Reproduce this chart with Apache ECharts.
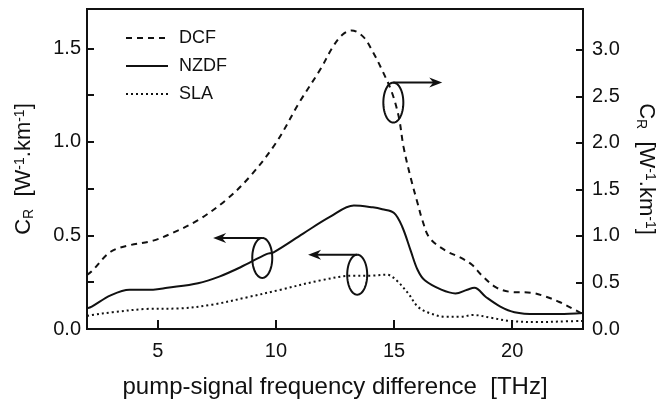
<!DOCTYPE html>
<html>
<head>
<meta charset="utf-8">
<script src="https://cdn.jsdelivr.net/npm/echarts@6/dist/echarts.min.js"></script>
<style>
html,body{margin:0;padding:0;background:#fff;}
#c{width:667px;height:401px;}
</style>
</head>
<body>
<div id="c"></div>
<script>
// ---- data ----
var dcfX = [2.0, 2.2, 3.0, 3.8, 4.8, 5.6, 6.7, 7.9, 8.9, 10.0, 11.0, 11.9, 12.4, 12.8, 13.2, 13.7, 14.1, 14.5, 14.9, 15.2, 15.4, 15.7, 16.0, 16.2, 16.5, 17.2, 17.8, 18.3, 18.7, 19.3, 19.9, 20.8, 21.4, 22.0, 22.7, 23.0];
var dcfY = [0.58, 0.62, 0.83, 0.90, 0.95, 1.03, 1.17, 1.39, 1.64, 2.00, 2.44, 2.80, 3.03, 3.16, 3.21, 3.14, 2.98, 2.78, 2.55, 2.28, 1.96, 1.63, 1.35, 1.17, 0.98, 0.84, 0.77, 0.69, 0.58, 0.45, 0.40, 0.39, 0.35, 0.29, 0.20, 0.16];

var nzdfX = [2.0, 2.2, 3.0, 3.8, 4.8, 5.4, 6.7, 7.6, 8.5, 9.6, 9.9, 11.15, 12.3, 13.3, 14.1, 14.5, 15.0, 15.35, 15.7, 16.0, 16.3, 17.0, 17.6, 18.1, 18.4, 18.9, 19.5, 20.1, 21.0, 22.0, 23.0];
var nzdfY = [0.11, 0.12, 0.18, 0.21, 0.21, 0.22, 0.245, 0.28, 0.33, 0.40, 0.41, 0.51, 0.60, 0.66, 0.65, 0.64, 0.62, 0.545, 0.42, 0.315, 0.26, 0.21, 0.19, 0.21, 0.22, 0.17, 0.12, 0.09, 0.08, 0.08, 0.085];

var slaX = [2.0, 2.2, 3.1, 4.5, 5.9, 7.3, 8.8, 10.2, 11.9, 13.3, 14.0, 14.7, 15.1, 15.6, 16.0, 16.5, 17.2, 17.8, 18.35, 19.1, 19.9, 21.2, 22.0, 23.0];
var slaY = [0.07, 0.075, 0.09, 0.107, 0.11, 0.13, 0.17, 0.21, 0.26, 0.285, 0.285, 0.29, 0.26, 0.19, 0.12, 0.085, 0.065, 0.065, 0.075, 0.06, 0.043, 0.037, 0.04, 0.043];

var xTicks = [5, 10, 15, 20];
var seriesNames = ['DCF', 'NZDF', 'SLA'];

// annotation loops (left-axis data coordinates): centre x, centre y, arrow tip x
var loopX = [14.97, 9.42, 13.44];
var loopY = [1.21, 0.38, 0.29];
var arrowTipX = [17.04, 7.34, 11.36];

function pairs(xs, ys){ return xs.map(function(x,i){ return [x, ys[i]]; }); }

var FONT = "'Liberation Sans', Arial, Helvetica, sans-serif";
var INK = '#111';

var titleRich = {
  c: {fontSize: 22, fontFamily: FONT, color: INK, lineHeight: 28, verticalAlign: 'middle'},
  sub: {fontSize: 14, fontFamily: FONT, color: INK, lineHeight: 28, verticalAlign: 'bottom', padding: [0,0,2,0]},
  sup: {fontSize: 14, fontFamily: FONT, color: INK, lineHeight: 28, verticalAlign: 'top', padding: [3,0,0,0]},
  t: {fontSize: 22, fontFamily: FONT, color: INK, lineHeight: 28, verticalAlign: 'middle'}
};
var titleText = '{c|C}{sub|R}{t|  [W}{sup|-1}{t|.km}{sup|-1}{t|]}';

var chart = echarts.init(document.getElementById('c'), null, {renderer: 'canvas'});
var option = {
  backgroundColor: '#fff',
  animation: false,
  textStyle: {fontFamily: FONT, color: INK},
  grid: {left: 87, right: 84, top: 9, bottom: 72, show: true, borderColor: INK, borderWidth: 2,
    backgroundColor: 'transparent', containLabel: false, outerBoundsMode: 'none'},
  legend: {
    data: seriesNames,
    orient: 'vertical',
    left: 120, top: 24,
    itemWidth: 42, itemHeight: 14, itemGap: 10,
    itemStyle: {opacity: 0},
    textStyle: {fontSize: 18, fontFamily: FONT, color: INK, padding: [0,0,0,6]}
  },
  xAxis: {
    type: 'value', min: 2, max: 23,
    axisLine: {show: true, lineStyle: {color: INK, width: 2}},
    axisTick: {show: true, inside: true, length: 9, customValues: xTicks, lineStyle: {color: INK, width: 2}},
    axisLabel: {customValues: xTicks, fontSize: 20, fontFamily: FONT, color: INK, margin: 12},
    splitLine: {show: false},
    name: 'pump-signal frequency difference  [THz]',
    nameLocation: 'middle', nameGap: 46,
    nameTextStyle: {fontSize: 24, fontFamily: FONT, color: INK}
  },
  yAxis: [{
    type: 'value', min: 0, max: 1.71, interval: 0.25,
    axisLine: {show: true, lineStyle: {color: INK, width: 2}},
    axisTick: {show: true, inside: true, length: 7, lineStyle: {color: INK, width: 2}},
    axisLabel: {fontSize: 20, fontFamily: FONT, color: INK, margin: 6,
      formatter: function(v){ return (Math.abs(v*2 - Math.round(v*2)) < 1e-6 && v <= 1.5) ? v.toFixed(1) : ''; }},
    splitLine: {show: false},
    name: titleText, nameLocation: 'middle', nameGap: 49, nameRotate: 90,
    nameTextStyle: {rich: titleRich}
  }, {
    type: 'value', min: 0, max: 3.44, interval: 0.5, position: 'right',
    axisLine: {show: true, lineStyle: {color: INK, width: 2}},
    axisTick: {show: true, inside: true, length: 7, lineStyle: {color: INK, width: 2}},
    axisLabel: {fontSize: 20, fontFamily: FONT, color: INK, margin: 9,
      formatter: function(v){ return (Math.abs(v*2 - Math.round(v*2)) < 1e-6 && v <= 3.0) ? v.toFixed(1) : ''; }},
    splitLine: {show: false},
    name: titleText, nameLocation: 'middle', nameGap: 49, nameRotate: -90,
    nameTextStyle: {rich: titleRich}
  }],
  series: [{
    name: 'DCF', type: 'line', yAxisIndex: 1, data: pairs(dcfX, dcfY),
    smooth: 0.35, symbol: 'none',
    lineStyle: {color: INK, width: 2, type: [6, 5]}, itemStyle: {color: INK}
  }, {
    name: 'NZDF', type: 'line', yAxisIndex: 0, data: pairs(nzdfX, nzdfY),
    smooth: 0.35, symbol: 'none',
    lineStyle: {color: INK, width: 2, type: 'solid'}, itemStyle: {color: INK}
  }, {
    name: 'SLA', type: 'line', yAxisIndex: 0, data: pairs(slaX, slaY),
    smooth: 0.35, symbol: 'none',
    lineStyle: {color: INK, width: 2, type: [2, 3]}, itemStyle: {color: INK}
  }, {
    name: 'loops', type: 'custom', yAxisIndex: 0, clip: false, silent: true,
    data: loopX.map(function(x, i){ return [x, loopY[i], arrowTipX[i]]; }),
    encode: {x: 0, y: 1},
    renderItem: function(params, api){
      var c = api.coord([api.value(0), api.value(1)]);
      var tip = api.coord([api.value(2), api.value(1)]);
      var rx = 10, ry = 20, ty = c[1] - ry, ex = tip[0];
      var dir = ex > c[0] ? 1 : -1;
      var pts = [];
      for (var k = 0; k <= 60; k++) {
        var a = k / 60 * Math.PI * 2;
        pts.push([c[0] + rx * Math.sin(a), c[1] - ry * Math.cos(a)]);
      }
      return {type: 'group', children: [
        {type: 'polyline', shape: {points: pts}, style: {fill: null, stroke: INK, lineWidth: 2}},
        {type: 'line', shape: {x1: c[0], y1: ty, x2: ex - dir * 8, y2: ty}, style: {stroke: INK, lineWidth: 2}},
        {type: 'polygon', shape: {points: [[ex, ty], [ex - dir * 13, ty - 5], [ex - dir * 9, ty], [ex - dir * 13, ty + 5]]}, style: {fill: INK}}
      ]};
    }
  }]
};
chart.setOption(option);
</script>
</body>
</html>
